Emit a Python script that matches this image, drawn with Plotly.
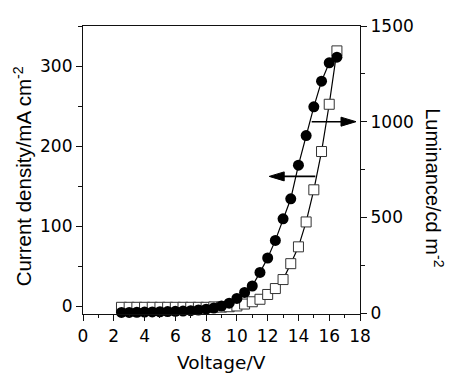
import plotly.graph_objects as go

voltage = [2.5, 3.0, 3.5, 4.0, 4.5, 5.0, 5.5, 6.0, 6.5, 7.0, 7.5, 8.0, 8.5, 9.0,
           9.5, 10.0, 10.5, 11.0, 11.5, 12.0, 12.5, 13.0, 13.5, 14.0, 14.5, 15.0,
           15.5, 16.0, 16.5]
current_density = [-8, -8, -7.8, -7.6, -7.4, -7.2, -7, -6.7, -6.3, -5.8, -5, -4, -2.5, 0,
                   3.5, 9.5, 17, 25, 42, 60, 82, 109, 134, 176, 213, 249,
                   281, 304, 311]
luminance = [30, 30, 30, 30, 30, 30, 30, 30, 30, 30, 30, 30, 32, 31,
             33, 37, 47, 59, 72, 97, 128, 175, 258, 346, 476, 644,
             844, 1091, 1370]

x_ticks = [0, 2, 4, 6, 8, 10, 12, 14, 16, 18]
j_ticks = [0, 100, 200, 300]
l_ticks = [0, 500, 1000, 1500]

FONT_H = "DejaVu Sans, Arial, sans-serif"
FONT_V = "Arial, Liberation Sans, sans-serif"
AX = "#111111"

fig = go.Figure()

# Luminance (right axis, primary y)
fig.add_trace(go.Scatter(
    x=voltage, y=luminance, mode="lines+markers", yaxis="y",
    line=dict(color="black", width=1.2),
    marker=dict(symbol="square", size=10, color="white",
                line=dict(color="#333333", width=1)),
    showlegend=False, cliponaxis=False))

# Current density (left axis, overlay, drawn on top)
fig.add_trace(go.Scatter(
    x=voltage, y=current_density, mode="lines+markers", yaxis="y2",
    line=dict(color="black", width=1.2),
    marker=dict(symbol="circle", size=11, color="black",
                line=dict(color="black", width=0)),
    showlegend=False, cliponaxis=False))

# Arrows: left arrow -> current density axis, right arrow -> luminance axis
fig.add_shape(type="line", xref="x", yref="y2", x0=15.1, x1=12.6, y0=162, y1=162,
              line=dict(color="black", width=1.6))
fig.add_shape(type="path", xref="x", yref="y2", xsizemode="pixel", ysizemode="pixel",
              xanchor=12.1, yanchor=162, path="M0,0 L15,-4.5 L15,4.5 Z",
              fillcolor="black", line=dict(color="black", width=1))
fig.add_shape(type="line", xref="x", yref="y", x0=14.86, x1=17.3, y0=1000, y1=1000,
              line=dict(color="black", width=1.6))
fig.add_shape(type="path", xref="x", yref="y", xsizemode="pixel", ysizemode="pixel",
              xanchor=17.74, yanchor=1000, path="M0,0 L-15,-4.5 L-15,4.5 Z",
              fillcolor="black", line=dict(color="black", width=1))

common = dict(showline=True, linecolor=AX, linewidth=1.2, ticks="outside",
              tickcolor=AX, tickwidth=1.2, ticklen=6, showgrid=False, zeroline=False,
              tickfont=dict(family=FONT_H, size=17, color="black"))

fig.update_layout(
    width=451, height=374,
    margin=dict(l=83, r=91, t=26, b=60, pad=0),
    paper_bgcolor="white", plot_bgcolor="white",
    xaxis=dict(range=[0, 18], tickvals=x_ticks, mirror=True,
               minor=dict(dtick=1, ticklen=3, ticks="outside", tickcolor=AX, tickwidth=1.2),
               **common),
    yaxis=dict(side="right", range=[-5, 1500], tickvals=l_ticks,
               minor=dict(dtick=250, ticklen=4, ticks="outside", tickcolor=AX, tickwidth=1.2),
               **common),
    yaxis2=dict(side="left", overlaying="y", range=[-10, 350], tickvals=j_ticks,
                minor=dict(dtick=50, ticklen=4, ticks="outside", tickcolor=AX, tickwidth=1.2),
                **common),
    annotations=[
        dict(text="Voltage/V", xref="paper", yref="paper", x=0.5, y=-0.167,
             xanchor="center", yanchor="middle", showarrow=False,
             font=dict(family=FONT_H, size=18.5, color="black")),
        dict(text="Current density/mA cm<sup>-2</sup>", xref="paper", yref="paper",
             x=-0.2166, y=0.478, xanchor="center", yanchor="middle", showarrow=False,
             textangle=-90, font=dict(family=FONT_V, size=20.5, color="black")),
        dict(text="Luminance/cd m<sup>-2</sup>", xref="paper", yref="paper",
             x=1.271, y=0.44, xanchor="center", yanchor="middle", showarrow=False,
             textangle=90, font=dict(family=FONT_V, size=20, color="black")),
    ],
)

fig.write_html("out.html", config={"displayModeBar": False},
               post_script="document.body.style.margin='0px';document.body.style.padding='0px';")
